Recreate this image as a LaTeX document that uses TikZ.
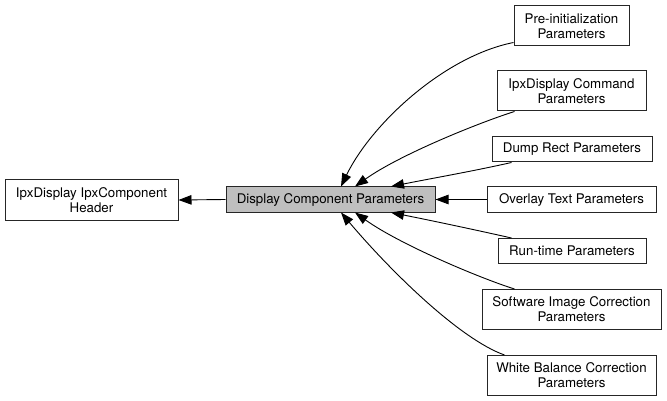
\documentclass[tikz,border=0pt]{standalone}
\usepackage{fontspec}
\setmainfont{TeX Gyre Heros}
\usetikzlibrary{arrows.meta}
\begin{document}
\begin{tikzpicture}[x=1pt,y=-1pt,
  box/.style={draw=black!85, line width=1pt, rectangle, inner sep=0pt, align=center,
    font=\fontsize{13.3}{15}\selectfont},
  edge/.style={draw=black, line width=0.9pt, -{Triangle[length=13pt,width=9.5pt]}},
]
\useasboundingbox (0,0) rectangle (667,401);
\node[box, minimum width=173pt, minimum height=40pt] (hdr) at (91.5,200) {IpxDisplay IpxComponent\\Header};
\node[box, fill={rgb,255:red,191;green,191;blue,191}, minimum width=209pt, minimum height=25pt] (main) at (330.5,199.5) {Display Component Parameters};
\node[box, minimum width=115pt, minimum height=40pt] (pre) at (571.5,26) {Pre-initialization\\Parameters};
\node[box, minimum width=149pt, minimum height=40pt] (cmd) at (571.5,91) {IpxDisplay Command\\Parameters};
\node[box, minimum width=160pt, minimum height=25pt] (dump) at (572,149.5) {Dump Rect Parameters};
\node[box, minimum width=169pt, minimum height=25pt] (ovl) at (571.5,199.5) {Overlay Text Parameters};
\node[box, minimum width=148pt, minimum height=25pt] (run) at (572,251) {Run-time Parameters};
\node[box, minimum width=179pt, minimum height=40pt] (sw) at (571.5,309.5) {Software Image Correction\\Parameters};
\node[box, minimum width=169pt, minimum height=40pt] (wb) at (571.5,375.5) {White Balance Correction\\Parameters};

\draw[edge] (main.west) -- (hdr.east);
\draw[edge] (ovl.west) -- (main.east);
\draw[edge] ([yshift=4pt]pre.south west) .. controls +(-70,14) and +(30,-62) .. ([xshift=10.5pt]main.north);
\draw[edge] ([xshift=18pt]cmd.south west) .. controls +(-35,11) and +(45,-32) .. ([xshift=24.5pt]main.north);
\draw[edge] ([xshift=20pt]dump.south west) .. controls +(-40,9) and +(40,-8) .. ([xshift=60.5pt]main.north);
\draw[edge] ([xshift=14pt]run.north west) .. controls +(-40,-9) and +(40,8) .. ([xshift=60.5pt]main.south);
\draw[edge] ([xshift=33pt]sw.north west) .. controls +(-35,-11) and +(45,32) .. ([xshift=24.5pt]main.south);
\draw[edge] ([xshift=18pt]wb.north west) .. controls +(-45,-16) and +(49,58) .. ([xshift=10.5pt]main.south);
\end{tikzpicture}
\end{document}
